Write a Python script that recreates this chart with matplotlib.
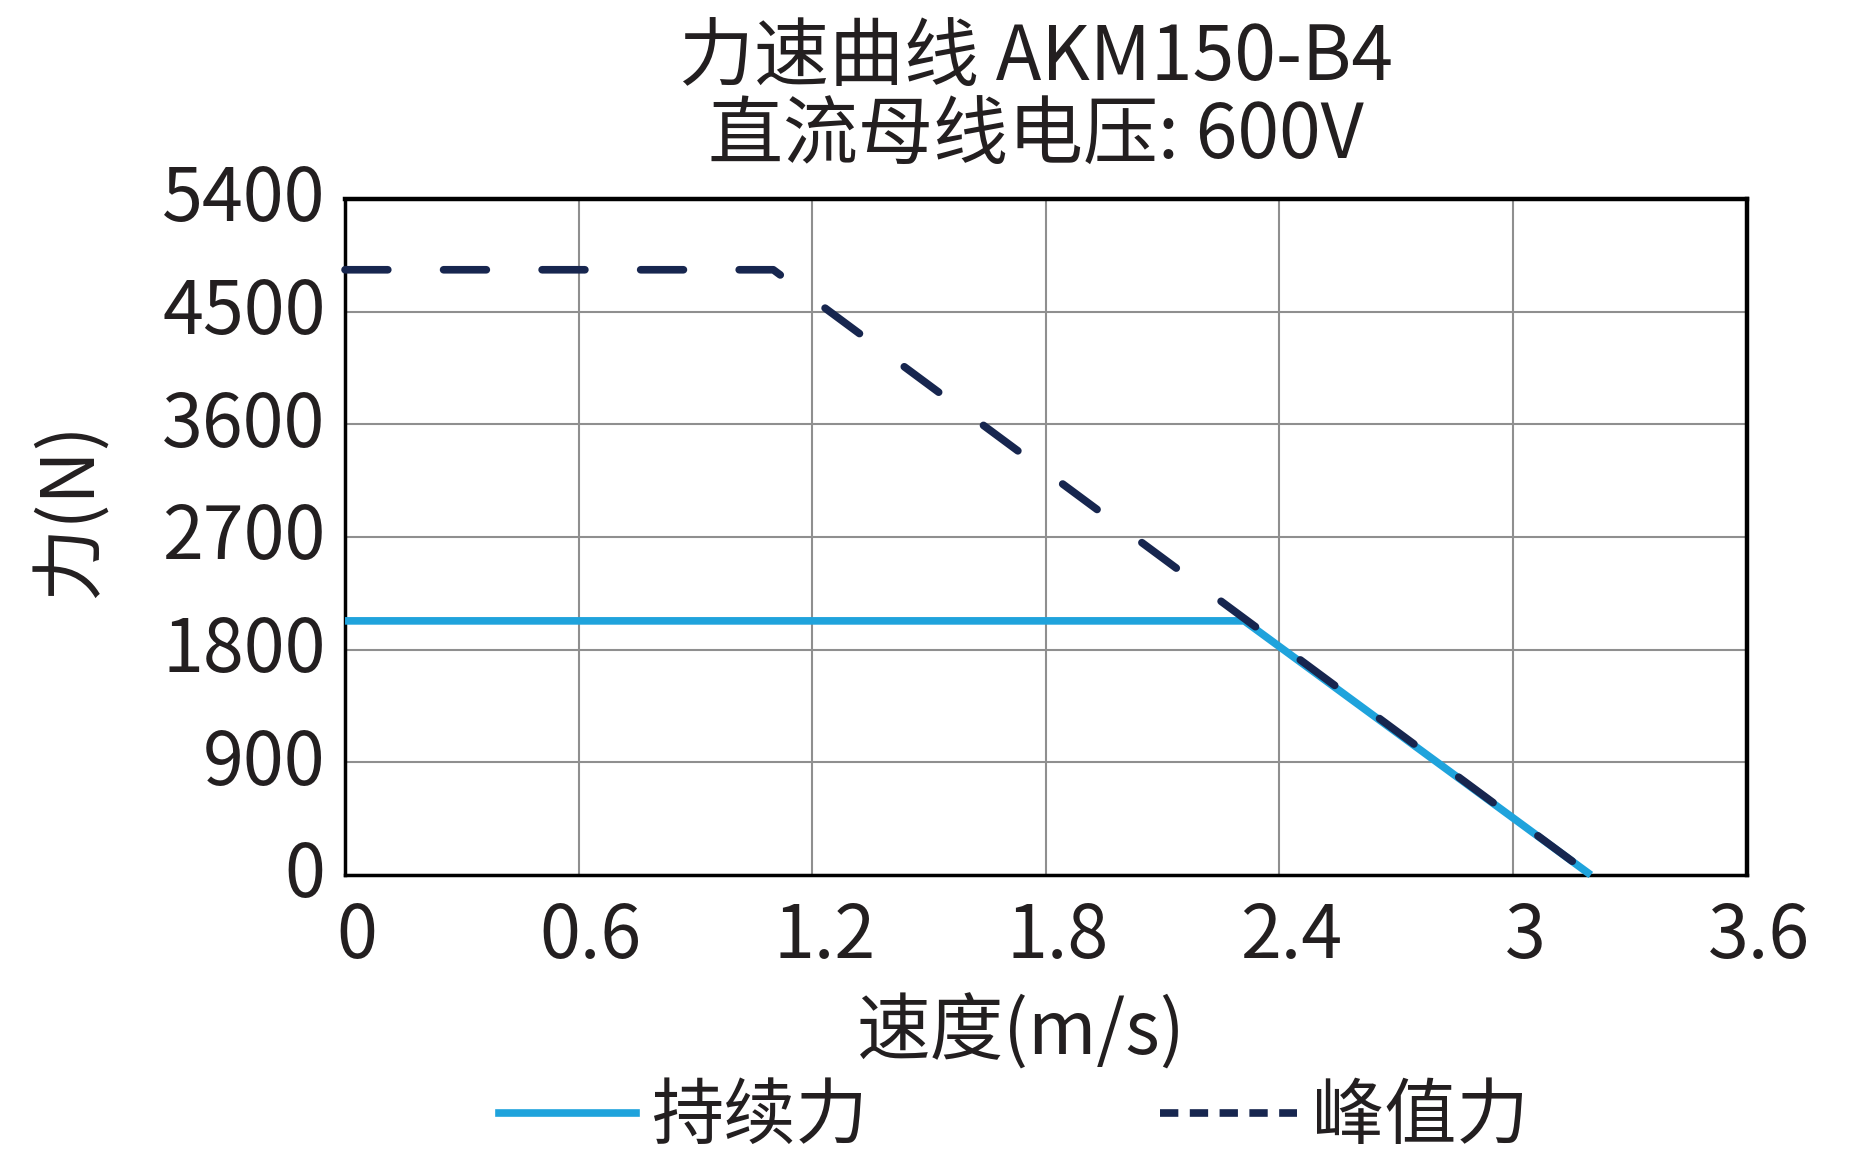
import matplotlib
matplotlib.use('Agg')
import matplotlib.pyplot as plt
import matplotlib.transforms as mtransforms
from matplotlib.lines import Line2D

plt.rcParams['font.family'] = ['Noto Sans CJK SC', 'DejaVu Sans']

# 数据
speed_cont = [0, 2.31, 3.2]
force_cont = [2030, 2030, 0]
speed_peak = [0, 1.1, 3.2]
force_peak = [4835, 4835, 0]

x_ticks = [0, 0.6, 1.2, 1.8, 2.4, 3.0, 3.6]
x_labels = ['0', '0.6', '1.2', '1.8', '2.4', '3', '3.6']
y_ticks = [0, 900, 1800, 2700, 3600, 4500, 5400]

blue = '#1fa3dc'
navy = '#17264f'
txt = '#231f20'

fig = plt.figure(figsize=(18.6, 11.64), dpi=100)
ax = fig.add_axes([0.1855, 0.2483, 0.7535, 0.5807])

ax.plot(speed_cont, force_cont, color=blue, lw=5.5, solid_capstyle='butt',
        zorder=3, clip_on=False)
ax.plot(speed_peak, force_peak, color=navy, lw=5.5, dashes=(5.6, 7.3),
        dash_capstyle='round', zorder=4, clip_on=False)

ax.set_xlim(0, 3.6)
ax.set_ylim(0, 5400)
ax.set_xticks(x_ticks)
ax.set_xticklabels(x_labels)
ax.set_yticks(y_ticks)
ax.grid(True, color='#8f8f8f', lw=1.5)
ax.set_axisbelow(True)
ax.tick_params(length=0, labelsize=53, colors=txt, pad=14)
ax.tick_params(axis='x', pad=18)

for s in ['top', 'right']:
    ax.spines[s].set_linewidth(3.2)
for s in ['left', 'bottom']:
    ax.spines[s].set_linewidth(2.5)
for s in ax.spines.values():
    s.set_color('black')

# x 标签稍微往右挪
off = mtransforms.ScaledTranslation(0.12, 0, fig.dpi_scale_trans)
for lab in ax.get_xticklabels():
    lab.set_transform(lab.get_transform() + off)
off_y = mtransforms.ScaledTranslation(0, 0.07, fig.dpi_scale_trans)
for lab in ax.get_yticklabels():
    lab.set_transform(lab.get_transform() + off_y)

fig.text(0.557, 0.950, '力速曲线 AKM150-B4', ha='center', va='center',
         fontsize=54, color=txt)
fig.text(0.557, 0.882, '直流母线电压: 600V', ha='center', va='center',
         fontsize=54, color=txt)

fig.text(0.038, 0.562, '力(N)', rotation=90, ha='center', va='center',
         fontsize=53, color=txt)
fig.text(0.549, 0.112, '速度(m/s)', ha='center', va='center',
         fontsize=53, color=txt)

handles = [Line2D([], [], color=blue, lw=5.5),
           Line2D([], [], color=navy, lw=5.5, dashes=(2.4, 1.5))]
fig.legend(handles, ['持续力', '峰值力'], loc='center', ncol=2,
           bbox_to_anchor=(0.545, 0.04), frameon=False, fontsize=52,
           handlelength=1.9, handletextpad=0.2, columnspacing=4.05,
           labelcolor=txt)

fig.savefig('out.png', dpi=100)
